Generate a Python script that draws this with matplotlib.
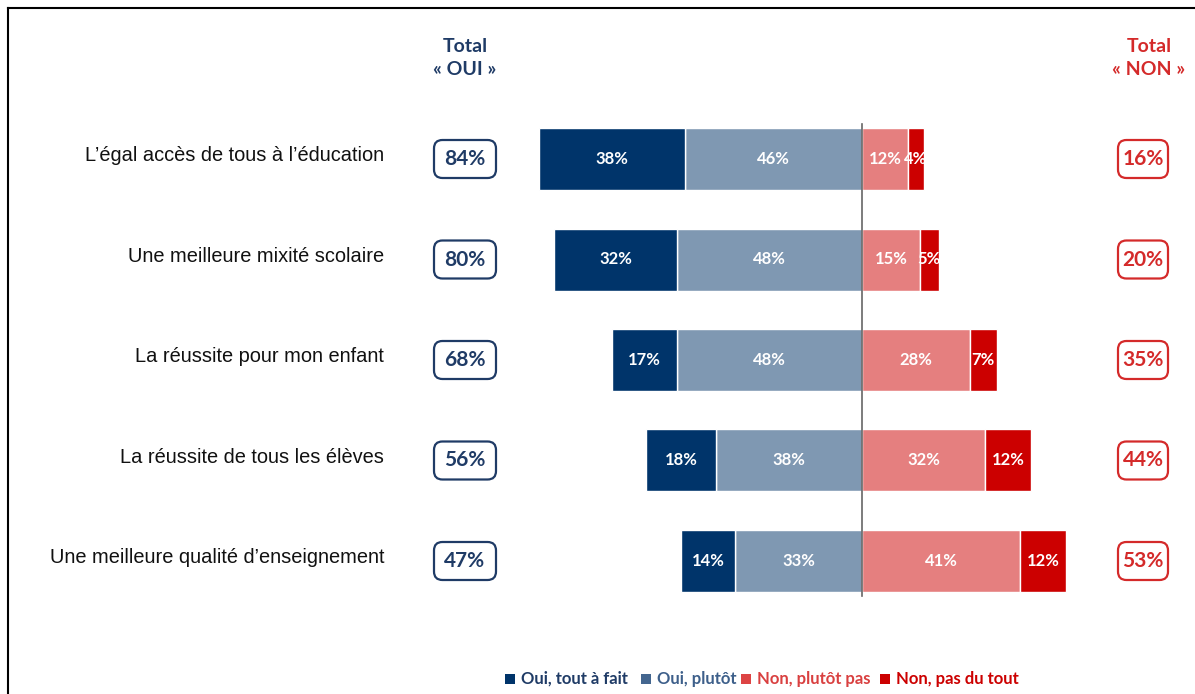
import matplotlib
matplotlib.use("Agg")
import matplotlib.pyplot as plt
from matplotlib.patches import FancyBboxPatch, Rectangle
from matplotlib.lines import Line2D

categories = ["L’égal accès de tous à l’éducation",
              "Une meilleure mixité scolaire",
              "La réussite pour mon enfant",
              "La réussite de tous les élèves",
              "Une meilleure qualité d’enseignement"]
oui_tout = [38, 32, 17, 18, 14]
oui_plutot = [46, 48, 48, 38, 33]
non_plutot = [12, 15, 28, 32, 41]
non_pas = [4, 5, 7, 12, 12]
total_oui = [84, 80, 68, 56, 47]
total_non = [16, 20, 35, 44, 53]
legend_labels = ["Oui, tout à fait", "Oui, plutôt", "Non, plutôt pas", "Non, pas du tout"]

C_NAVY = "#00346a"
C_STEEL = "#7f98b2"
C_SALMON = "#e57f7f"
C_RED = "#cc0000"

W, H = 1195, 694
fig = plt.figure(figsize=(W / 100, H / 100), dpi=100)
ax = fig.add_axes([0, 0, 1, 1])

X0 = 862.0      # pixel of the zero line
SC = 3.85       # pixels per percent
Y0 = 159.0      # pixel of first row centre
DY = 100.5      # pixels per row

ax.set_xlim(-X0 / SC, (W - X0) / SC)
ax.set_ylim((H - Y0) / DY, -Y0 / DY)
ax.axis("off")

def px(x):
    return (x - X0) / SC

def py(y):
    return (y - Y0) / DY

bh = 62 / DY
rows = range(len(categories))
ax.barh(rows, [-v for v in oui_plutot], height=bh, color=C_STEEL, edgecolor="white", linewidth=1)
ax.barh(rows, [-v for v in oui_tout], left=[-v for v in oui_plutot], height=bh,
        color=C_NAVY, edgecolor="white", linewidth=1)
ax.barh(rows, non_plutot, height=bh, color=C_SALMON, edgecolor="white", linewidth=1)
ax.barh(rows, non_pas, left=non_plutot, height=bh, color=C_RED, edgecolor="white", linewidth=1)

lab_font = dict(family="Lato", fontweight="bold", fontsize=12, color="white",
                ha="center", va="center")
for i in rows:
    ax.text(-oui_plutot[i] - oui_tout[i] / 2, i, f"{oui_tout[i]}%", **lab_font)
    ax.text(-oui_plutot[i] / 2, i, f"{oui_plutot[i]}%", **lab_font)
    ax.text(non_plutot[i] / 2, i, f"{non_plutot[i]}%", **lab_font)
    ax.text(non_plutot[i] + non_pas[i] / 2, i, f"{non_pas[i]}%", **lab_font)
    ax.text(px(384), i - 0.03, categories[i], ha="right", va="center",
            family="Liberation Sans", fontsize=14.4, color="#111111")

# zero line
ax.plot([0, 0], [py(124), py(596)], color="#666666", linewidth=1.2, zorder=5)

# total boxes
def box(cx, cy, w, h, txt, col):
    x0, x1 = px(cx - w / 2), px(cx + w / 2)
    y0, y1 = py(cy - h / 2), py(cy + h / 2)
    p = FancyBboxPatch((x0, min(y0, y1)), x1 - x0, abs(y1 - y0),
                       boxstyle="round,pad=0,rounding_size=2.2",
                       mutation_aspect=SC / DY,
                       facecolor="white", edgecolor=col, linewidth=1.6)
    ax.add_patch(p)
    ax.text(px(cx), py(cy), txt, ha="center", va="center", family="Lato",
            fontweight="bold", fontsize=15, color=col)

for i in rows:
    cy = 159 + DY * i
    box(465, cy, 62, 38, f"{total_oui[i]}%", "#1f3b66")
    box(1143, cy, 50, 38, f"{total_non[i]}%", "#d42a2a")

ax.text(px(465), py(58), "Total\n« OUI »", ha="center", va="center", family="Lato",
        fontweight="bold", fontsize=14, color="#1f3b66", linespacing=1.45)
ax.text(px(1149), py(58), "Total\n« NON »", ha="center", va="center", family="Lato",
        fontweight="bold", fontsize=14, color="#d42a2a", linespacing=1.45)

# legend
leg_sq = [C_NAVY, "#44668f", "#dd4444", C_RED]
leg_txt = ["#1f3b66", "#3d5f8a", "#d94040", "#cc0000"]
xs = [505, 641, 741, 880]
for x, sc, tc, lb in zip(xs, leg_sq, leg_txt, legend_labels):
    fig.patches.append(Rectangle((x / W, 1 - 684 / H), 10 / W, 10 / H,
                                 transform=fig.transFigure, facecolor=sc, edgecolor="none"))
    fig.text((x + 16) / W, 1 - 679 / H, lb, ha="left", va="center", family="Lato",
             fontweight="bold", fontsize=12, color=tc)

# frame (top and left)
fig.add_artist(Line2D([8 / W, 1], [1 - 8 / H, 1 - 8 / H], transform=fig.transFigure,
                      color="black", linewidth=1.5))
fig.add_artist(Line2D([8 / W, 8 / W], [0, 1 - 8 / H], transform=fig.transFigure,
                      color="black", linewidth=1.5))

fig.savefig("out.png", dpi=100)
